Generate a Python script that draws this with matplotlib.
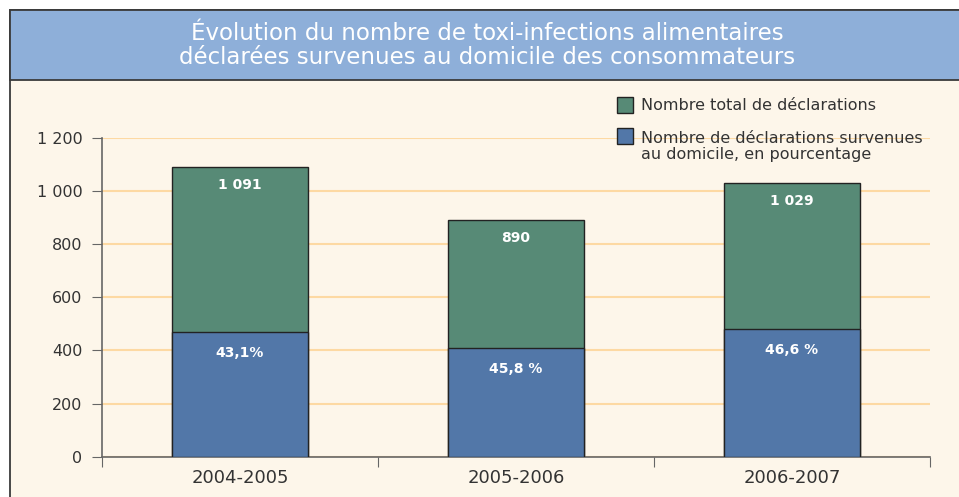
import matplotlib.pyplot as plt
from matplotlib.patches import Rectangle

plt.rcParams['font.family'] = ['DejaVu Sans']

# data
periods = ['2004-2005', '2005-2006', '2006-2007']
total = [1091, 890, 1029]
pct_domicile = [43.1, 45.8, 46.6]
total_labels = ['1 091', '890', '1 029']
pct_labels = ['43,1%', '45,8 %', '46,6 %']
yticks = [0, 200, 400, 600, 800, 1000, 1200]
ytick_labels = ['0', '200', '400', '600', '800', '1 000', '1 200']

domicile = [t * p / 100 for t, p in zip(total, pct_domicile)]

W, H = 959, 497
cream = '#fdf6ea'
green = '#578a76'
blue = '#5277a8'
band = '#8eafd9'
txt = '#333333'


def fx(px):
    return px / W


def fy(py):
    return 1 - py / H


fig = plt.figure(figsize=(W / 100, H / 100), dpi=100, facecolor='white')

# frame and title band
fig.patches.append(Rectangle((fx(10), fy(520)), fx(980), 510 / H, transform=fig.transFigure,
                             facecolor=cream, edgecolor='#3a3a3a', lw=1.3, zorder=-2))
fig.patches.append(Rectangle((fx(10), fy(80)), fx(980), 70 / H, transform=fig.transFigure,
                             facecolor=band, edgecolor='#3a3a3a', lw=1.3, zorder=-1))
fig.text(fx(487), fy(40), 'Évolution du nombre de toxi-infections alimentaires',
         ha='center', va='baseline', color='white', fontsize=16.5)
fig.text(fx(487), fy(64), 'déclarées survenues au domicile des consommateurs',
         ha='center', va='baseline', color='white', fontsize=16.5)

ax = fig.add_axes([fx(102), fy(456.7), fx(930 - 102), (456.7 - 138) / H])
ax.set_facecolor('none')

x = range(len(periods))
ax.bar(x, total, width=0.49, color=green, edgecolor='#222222', lw=1, zorder=2)
ax.bar(x, domicile, width=0.49, color=blue, edgecolor='#222222', lw=1, zorder=3)

for i in x:
    ax.annotate(total_labels[i], (i, total[i]), xytext=(0, -13), textcoords='offset points',
                ha='center', va='center', color='white', fontweight='bold', fontsize=10, zorder=4)
    ax.annotate(pct_labels[i], (i, domicile[i]), xytext=(0, -15), textcoords='offset points',
                ha='center', va='center', color='white', fontweight='bold', fontsize=10, zorder=4)

ax.set_xlim(-0.5, 2.5)
ax.set_ylim(0, 1200)
ax.set_yticks(yticks)
ax.set_yticklabels(ytick_labels)
ax.yaxis.grid(True, color='#fdd9a3', lw=1.5, zorder=0)
ax.set_axisbelow(True)

ax.set_xticks([-0.5, 0.5, 1.5, 2.5])
ax.set_xticklabels([])
ax.set_xticks(list(x), minor=True)
ax.set_xticklabels(periods, minor=True)
ax.tick_params(axis='x', which='major', length=7, direction='out', color='#666666')
ax.tick_params(axis='x', which='minor', length=0, pad=9, labelsize=13, labelcolor=txt)
ax.tick_params(axis='y', length=7, color='#666666', pad=7, labelsize=11.5, labelcolor=txt)

for s in ['top', 'right']:
    ax.spines[s].set_visible(False)
for s in ['left', 'bottom']:
    ax.spines[s].set_color('#666666')
    ax.spines[s].set_linewidth(1.2)

# legend
fig.patches.append(Rectangle((fx(617), fy(113)), fx(16), 16 / H, transform=fig.transFigure,
                             facecolor=green, edgecolor='#222222', lw=1))
fig.patches.append(Rectangle((fx(617), fy(144)), fx(16), 16 / H, transform=fig.transFigure,
                             facecolor=blue, edgecolor='#222222', lw=1))
fig.text(fx(641), fy(110), 'Nombre total de déclarations', va='baseline', ha='left',
         color=txt, fontsize=11.5)
fig.text(fx(641), fy(143), 'Nombre de déclarations survenues', va='baseline', ha='left',
         color=txt, fontsize=11.5)
fig.text(fx(641), fy(159), 'au domicile, en pourcentage', va='baseline', ha='left',
         color=txt, fontsize=11.5)

fig.savefig('out.png', dpi=100, facecolor=fig.get_facecolor())
